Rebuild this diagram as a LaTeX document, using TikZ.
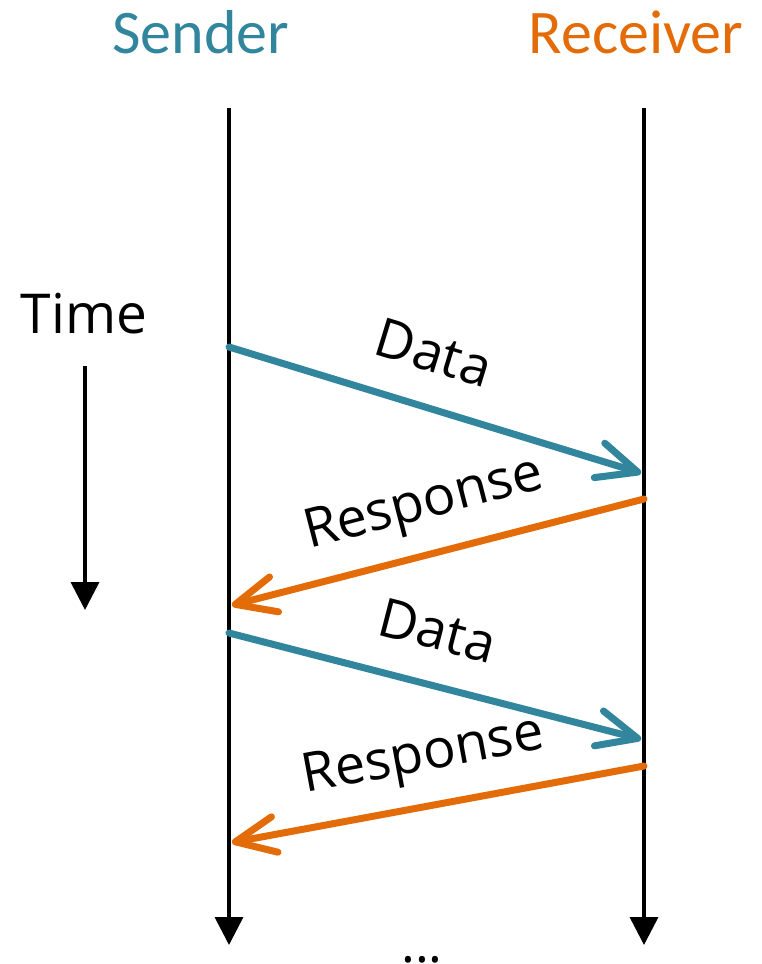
\documentclass[tikz,border=0pt]{standalone}
\usepackage{fontspec}
\setmainfont{Open Sans}
\newfontfamily\headfont{Carlito}
\usetikzlibrary{arrows.meta}

\definecolor{senderblue}{RGB}{49,133,156}
\definecolor{receiverorange}{RGB}{227,108,9}

\tikzset{
  lifeline/.style={line width=3.6pt, -{Triangle[length=28pt,width=28pt]}},
  msg/.style={line width=7pt, line cap=round,
    -{Straight Barb[length=40pt,width=36pt,line cap=round,line join=round]},
    shorten >=3pt},
  datamsg/.style={msg, senderblue},
  respmsg/.style={msg, receiverorange},
  msglabel/.style={sloped, above=19pt, inner sep=0pt, text=black,
    font=\fontsize{54}{62}\selectfont, text height=39pt, text depth=13pt},
  header/.style={anchor=base, inner sep=0pt, font=\headfont\fontsize{62}{70}\selectfont},
}

\begin{document}
\begin{tikzpicture}[x=1pt, y=-1pt]
  \useasboundingbox (0,0) rectangle (762,964);

  % column headings
  \node[header, text=senderblue] (sender) at (201,53) {Sender};
  \node[header, text=receiverorange] (receiver) at (636,53) {Receiver};

  % time axis
  \node[anchor=base, inner sep=0pt, font=\fontsize{55}{62}\selectfont] (time) at (84,333) {Time};
  \coordinate (tTop) at (85,366);
  \coordinate (tBot) at (85,610);
  \draw[lifeline] (tTop) -- (tBot);

  % lifelines
  \coordinate (sTop) at (229,108);
  \coordinate (sBot) at (229,945);
  \coordinate (rTop) at (644,108);
  \coordinate (rBot) at (644,945);
  \draw[lifeline] (sTop) -- (sBot);
  \draw[lifeline] (rTop) -- (rBot);

  % message endpoints on the lifelines
  \coordinate (sA) at (229,347);
  \coordinate (rA) at (644,474);
  \coordinate (rB) at (644,499);
  \coordinate (sB) at (229,606);
  \coordinate (sC) at (229,633);
  \coordinate (rC) at (644,740);
  \coordinate (rD) at (644,766);
  \coordinate (sD) at (229,843);

  % messages
  \draw[datamsg] (sA) -- node[msglabel, pos=0.455] (dataA) {Data} (rA);
  \draw[respmsg] (rB) -- node[msglabel, pos=0.5] (respB) {Response} (sB);
  \draw[datamsg] (sC) -- node[msglabel, pos=0.47] (dataC) {Data} (rC);
  \draw[respmsg] (rD) -- node[msglabel, pos=0.51] (respD) {Response} (sD);

  % continuation
  \node[anchor=base, inner sep=0pt, font=\fontsize{52}{60}\selectfont] (more) at (422,962) {...};
\end{tikzpicture}
\end{document}
